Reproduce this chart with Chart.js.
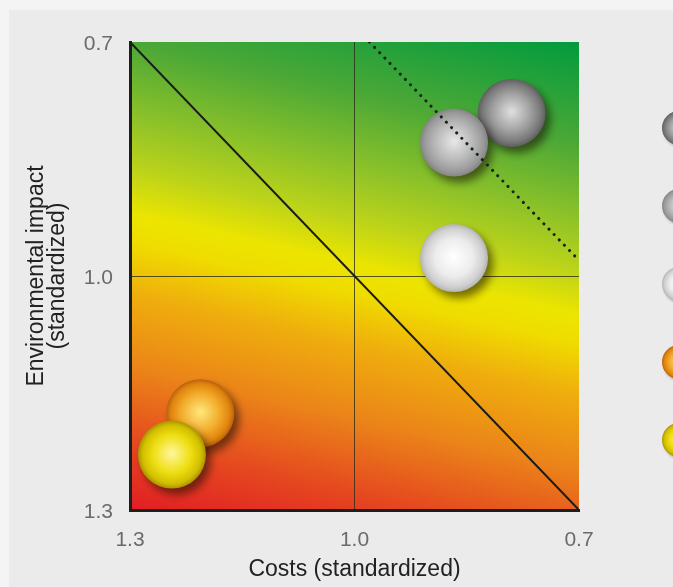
<!DOCTYPE html>
<html>
<head>
<meta charset="utf-8">
<title>Eco-efficiency portfolio</title>
<style>
  html, body { margin: 0; padding: 0; background: #f4f4f4; overflow: hidden; }
  canvas { display: block; }
</style>
<script src="https://cdn.jsdelivr.net/npm/chart.js@4.4.0/dist/chart.umd.min.js"></script>
</head>
<body>
<canvas id="chart" width="673" height="587"></canvas>
<script>
// Alternatives compared, with standardized costs (x) and environmental impact (y)
const alternatives = ['Alternative 1', 'Alternative 2', 'Alternative 3', 'Alternative 4', 'Alternative 5'];
const costs  = [0.790, 0.867, 0.867, 1.206, 1.244];
const impact = [0.791, 0.829, 0.977, 1.176, 1.229];

// Tick values shared by both axes
const axisTicks = [1.3, 1.0, 0.7];

// Reference lines: equal eco-efficiency diagonal and a target line
const parityCosts  = [1.3, 0.7];
const parityImpact = [0.7, 1.3];
const targetCosts  = [0.98, 0.7];
const targetImpact = [0.7, 0.98];

// ---- styling ----
const SPHERE_R = 34;
const LEGEND_R = 17;
const sphereShades = [
  ['#dedede', '#a0a0a0', '#787878', '#5e5e5e'],   // dark grey
  ['#e6e6e6', '#b8b8b8', '#9a9a9a', '#848484'],   // mid grey
  ['#ffffff', '#ececec', '#cfcfcf', '#b4b4b4'],   // light grey
  ['#ffe67a', '#f3ac2c', '#e0840e', '#b9620c'],   // orange
  ['#fff69a', '#eede12', '#d2be00', '#a99300']    // yellow
];
const fieldStops = [
  [0.00, '#e21d24'],
  [0.12, '#e5491f'],
  [0.25, '#eb8419'],
  [0.38, '#efae0d'],
  [0.47, '#efdc00'],
  [0.52, '#ece500'],
  [0.60, '#bcd31a'],
  [0.70, '#88c02a'],
  [0.82, '#4ca836'],
  [1.00, '#019b3e']
];
// direction of the colour field (perpendicular to the yellow band)
const FIELD_DIR = { x: 0.221, y: -0.975 };

function sphereGradient(ctx, x, y, r, s) {
  const g = ctx.createRadialGradient(x, y - r * 0.04, r * 0.02, x, y, r);
  g.addColorStop(0, s[0]);
  g.addColorStop(0.55, s[1]);
  g.addColorStop(0.86, s[2]);
  g.addColorStop(1, s[3]);
  return g;
}

function sphereFill(shades) {
  return (c) => {
    const chart = c.chart;
    if (c.type !== 'data' || !c.raw || !chart.scales.x) return shades[1];
    const x = chart.scales.x.getPixelForValue(c.raw.x);
    const y = chart.scales.y.getPixelForValue(c.raw.y);
    if (!isFinite(x) || !isFinite(y)) return shades[1];
    return sphereGradient(chart.ctx, x, y, SPHERE_R, shades);
  };
}

function pairs(xs, ys) {
  return xs.map((v, i) => ({ x: v, y: ys[i] }));
}

// Panel background and colour field behind the plot area
const fieldPlugin = {
  id: 'field',
  beforeDraw(chart) {
    const ctx = chart.ctx;
    const { left, top, right, bottom } = chart.chartArea;
    ctx.save();
    ctx.fillStyle = '#f4f4f4';
    ctx.fillRect(0, 0, chart.width, chart.height);
    ctx.fillStyle = '#ebebeb';
    ctx.fillRect(9, 10, chart.width, chart.height);
    const cx = (left + right) / 2, cy = (top + bottom) / 2;
    const ext = Math.abs((right - left) / 2 * FIELD_DIR.x) + Math.abs((bottom - top) / 2 * FIELD_DIR.y);
    const g = ctx.createLinearGradient(cx - FIELD_DIR.x * ext, cy - FIELD_DIR.y * ext,
                                       cx + FIELD_DIR.x * ext, cy + FIELD_DIR.y * ext);
    fieldStops.forEach(([p, col]) => g.addColorStop(p, col));
    ctx.fillStyle = g;
    ctx.fillRect(left, top, right - left, bottom - top);
    ctx.restore();
  }
};

// Drop shadow under the spheres only
const shadowPlugin = {
  id: 'sphereShadow',
  beforeDatasetDraw(chart, args) {
    if (!chart.data.datasets[args.index].sphere) return;
    const ctx = chart.ctx;
    ctx.save();
    ctx.shadowColor = 'rgba(20, 10, 0, 0.55)';
    ctx.shadowBlur = 8;
    ctx.shadowOffsetX = 5;
    ctx.shadowOffsetY = 6;
  },
  afterDatasetDraw(chart, args) {
    if (!chart.data.datasets[args.index].sphere) return;
    chart.ctx.restore();
  }
};

// Legend markers to the right of the plot
const sphereLegendPlugin = {
  id: 'sphereLegend',
  afterDraw(chart) {
    const ctx = chart.ctx;
    const x = chart.chartArea.right + 100;
    alternatives.forEach((name, i) => {
      const y = chart.chartArea.top + 86 + i * 78;
      ctx.save();
      ctx.shadowColor = 'rgba(0,0,0,0.3)';
      ctx.shadowBlur = 3;
      ctx.shadowOffsetX = 2;
      ctx.shadowOffsetY = 2;
      ctx.beginPath();
      ctx.arc(x, y, LEGEND_R, 0, Math.PI * 2);
      ctx.fillStyle = sphereGradient(ctx, x, y, LEGEND_R, sphereShades[i]);
      ctx.fill();
      ctx.restore();
    });
  }
};

const drawOrder = [5, 4, 3, 2, 1];

const datasets = alternatives.map((name, i) => ({
  type: 'scatter',
  label: name,
  sphere: true,
  data: [{ x: costs[i], y: impact[i] }],
  pointRadius: SPHERE_R,
  pointHoverRadius: SPHERE_R,
  pointBorderWidth: 0,
  borderWidth: 0,
  backgroundColor: sphereFill(sphereShades[i]),
  order: drawOrder[i],
  clip: false
}));

datasets.push({
  type: 'line',
  label: 'Equal eco-efficiency',
  data: pairs(parityCosts, parityImpact),
  borderColor: '#1b1b1b',
  borderWidth: 2,
  pointRadius: 0,
  fill: false,
  order: 0
});
datasets.push({
  type: 'line',
  label: 'Target',
  data: pairs(targetCosts, targetImpact),
  borderColor: '#142414',
  borderWidth: 3,
  borderDash: [0.01, 7.4],
  borderCapStyle: 'round',
  pointRadius: 0,
  fill: false,
  order: 0
});

const FONT = "'Liberation Sans', Arial, Helvetica, sans-serif";
const onlyCentre = (c) => (c.tick && Math.abs(c.tick.value - 1.0) < 1e-9) ? 'rgba(45, 45, 25, 0.8)' : 'rgba(0,0,0,0)';
const setTicks = (scale) => { scale.ticks = axisTicks.map(v => ({ value: v })); };

new Chart(document.getElementById('chart'), {
  type: 'scatter',
  data: { datasets },
  plugins: [fieldPlugin, shadowPlugin, sphereLegendPlugin],
  options: {
    responsive: false,
    animation: false,
    events: [],
    layout: { padding: { top: 42, right: 94, left: 0, bottom: 0 } },
    plugins: {
      legend: { display: false },
      tooltip: { enabled: false }
    },
    scales: {
      x: {
        type: 'linear',
        reverse: true,
        min: 0.7,
        max: 1.3,
        afterBuildTicks: setTicks,
        afterFit: (s) => { s.height = 77; },
        ticks: {
          callback: (v) => Number(v).toFixed(1),
          font: { family: FONT, size: 21 },
          color: '#6b6b6b',
          padding: 18,
          maxRotation: 0
        },
        grid: { color: onlyCentre, lineWidth: 1, drawTicks: false },
        border: { display: true, color: '#1e1e1e', width: 3 },
        title: {
          display: true,
          text: 'Costs (standardized)',
          font: { family: FONT, size: 23 },
          color: '#222222',
          padding: { top: 0, bottom: 4 }
        }
      },
      y: {
        type: 'linear',
        reverse: true,
        min: 0.7,
        max: 1.3,
        afterBuildTicks: setTicks,
        afterFit: (s) => { s.width = 130; },
        ticks: {
          callback: (v) => Number(v).toFixed(1),
          font: { family: FONT, size: 21 },
          color: '#6b6b6b',
          padding: 17,
          labelOffset: 2
        },
        grid: { color: onlyCentre, lineWidth: 1, drawTicks: false },
        border: { display: true, color: '#1e1e1e', width: 3 },
        title: {
          display: true,
          text: ['Environmental impact', '(standardized)'],
          font: { family: FONT, size: 23, lineHeight: 0.92 },
          color: '#222222',
          padding: { top: 26, bottom: 0 }
        }
      }
    }
  }
});
</script>
</body>
</html>
